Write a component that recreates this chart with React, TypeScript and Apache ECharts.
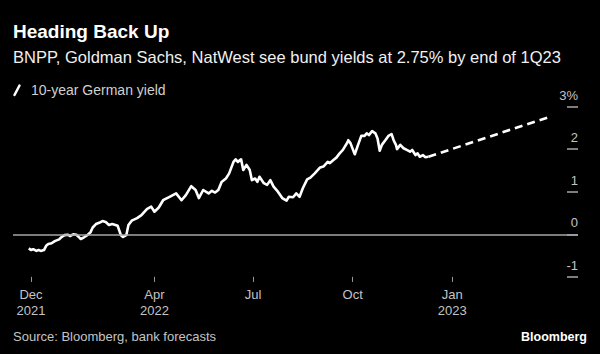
import React, { useEffect, useRef } from 'react';
import * as echarts from 'echarts';

// 10-year German yield (%)
const yieldDates = [
  '2021-12-06', '2021-12-08', '2021-12-10', '2021-12-13', '2021-12-15', '2021-12-17', '2021-12-20',
  '2021-12-22', '2021-12-24', '2021-12-27', '2021-12-30', '2022-01-03', '2022-01-05', '2022-01-08',
  '2022-01-11', '2022-01-13', '2022-01-16', '2022-01-19', '2022-01-21', '2022-01-23', '2022-01-26',
  '2022-01-29', '2022-02-01', '2022-02-03', '2022-02-06', '2022-02-09', '2022-02-12', '2022-02-15',
  '2022-02-18', '2022-02-21', '2022-02-24', '2022-02-26', '2022-03-01', '2022-03-03', '2022-03-06',
  '2022-03-08', '2022-03-11', '2022-03-16', '2022-03-20', '2022-03-25', '2022-03-29', '2022-04-01',
  '2022-04-05', '2022-04-09', '2022-04-15', '2022-04-21', '2022-04-26', '2022-04-30', '2022-05-05',
  '2022-05-09', '2022-05-12', '2022-05-16', '2022-05-21', '2022-05-24', '2022-05-27', '2022-05-30',
  '2022-06-02', '2022-06-06', '2022-06-09', '2022-06-13', '2022-06-15', '2022-06-17', '2022-06-20',
  '2022-06-22', '2022-06-25', '2022-06-28', '2022-06-30', '2022-07-03', '2022-07-05', '2022-07-07',
  '2022-07-11', '2022-07-14', '2022-07-17', '2022-07-20', '2022-07-24', '2022-07-28', '2022-08-01',
  '2022-08-03', '2022-08-07', '2022-08-10', '2022-08-13', '2022-08-16', '2022-08-20', '2022-08-23',
  '2022-08-27', '2022-09-01', '2022-09-04', '2022-09-08', '2022-09-10', '2022-09-13', '2022-09-16',
  '2022-09-19', '2022-09-22', '2022-09-26', '2022-09-27', '2022-09-29', '2022-10-02', '2022-10-03',
  '2022-10-06', '2022-10-09', '2022-10-12', '2022-10-14', '2022-10-16', '2022-10-19', '2022-10-22',
  '2022-10-24', '2022-10-26', '2022-10-28', '2022-10-31', '2022-11-03', '2022-11-06', '2022-11-08',
  '2022-11-10', '2022-11-11', '2022-11-14', '2022-11-17', '2022-11-20', '2022-11-23', '2022-11-25',
  '2022-11-28', '2022-11-30', '2022-12-02', '2022-12-05', '2022-12-07', '2022-12-10',
];
const yieldValues = [
  -0.33, -0.37, -0.35, -0.39, -0.37, -0.39, -0.37,
  -0.27, -0.23, -0.21, -0.16, -0.12, -0.07, -0.02,
  -0.01, -0.04, 0.0, -0.01, -0.06, -0.11, -0.07,
  -0.02, 0.05, 0.16, 0.24, 0.27, 0.31, 0.29,
  0.22, 0.24, 0.22, 0.2, -0.02, -0.06, -0.02,
  0.22, 0.32, 0.38, 0.45, 0.59, 0.65, 0.53,
  0.63, 0.8, 0.88, 0.96, 0.8, 0.92, 1.13,
  1.04, 0.85, 1.04, 0.96, 1.02, 0.98, 1.04,
  1.23, 1.31, 1.43, 1.7, 1.76, 1.7, 1.76,
  1.51, 1.63, 1.51, 1.27, 1.31, 1.23, 1.35,
  1.2, 1.16, 1.27, 1.12, 1.0, 0.85, 0.79,
  0.88, 0.87, 0.96, 0.88, 1.08, 1.29, 1.33,
  1.43, 1.57, 1.59, 1.7, 1.67, 1.74, 1.8,
  1.9, 1.98, 2.15, 2.21, 2.14, 1.94, 1.88,
  2.1, 2.31, 2.31, 2.37, 2.33, 2.42, 2.37,
  2.25, 1.96, 2.1, 2.2, 2.31, 2.35, 2.2,
  2.1, 2.0, 2.1, 2.02, 1.98, 1.94, 1.98,
  1.86, 1.9, 1.82, 1.86, 1.81, 1.82,
];

// Bank forecast: 2.75% by end of 1Q23
const forecastDates = ['2022-12-10', '2023-03-31'];
const forecastValues = [1.82, 2.75];

const xTickDates = ['2021-12-08', '2022-04-01', '2022-07-01', '2022-10-01', '2023-01-01'];
const xTickLabels = ['Dec\n2021', 'Apr\n2022', 'Jul', 'Oct', 'Jan\n2023'];
const yTickValues = [-1, 0, 1, 2, 3];
const yTickLabels = ['-1', '0', '1', '2', '3%'];

const FONT = '"Liberation Sans", Arial, sans-serif';
const ts = (d: string) => new Date(d + 'T00:00:00Z').getTime();

export default function App() {
  const ref = useRef<HTMLDivElement>(null);

  useEffect(() => {
    document.body.style.margin = '0';
    document.body.style.background = '#000';
    if (!ref.current) return;
    const chart = echarts.init(ref.current, undefined, { renderer: 'svg' });

    const xTickTs = xTickDates.map(ts);
    const solid = yieldDates.map((d, i) => [ts(d), yieldValues[i]]);
    const dashed = forecastDates.map((d, i) => [ts(d), forecastValues[i]]);

    chart.setOption({
      animation: false,
      backgroundColor: '#000',
      grid: {
        left: 13,
        right: 22,
        top: 106.5,
        bottom: 77.1,
        containLabel: false,
        outerBoundsMode: 'none',
      },
      xAxis: {
        type: 'value',
        min: ts('2021-11-21') + 0.4 * 86400000,
        max: ts('2023-04-27') + 0.1 * 86400000,
        axisLine: { show: false, onZero: false },
        splitLine: { show: false },
        axisTick: {
          show: true,
          customValues: xTickTs,
          length: 5,
          lineStyle: { color: '#9a9a9a', width: 1 },
        },
        axisLabel: {
          customValues: xTickTs,
          hideOverlap: false,
          formatter: (v: number) => {
            const i = xTickTs.findIndex((t) => Math.abs(t - v) < 1000);
            return i >= 0 ? xTickLabels[i] : '';
          },
          color: '#c4c4c4',
          fontFamily: FONT,
          fontSize: 13,
          lineHeight: 16,
          margin: 10,
        },
      },
      yAxis: {
        type: 'value',
        position: 'right',
        min: -1,
        max: 3,
        interval: 1,
        axisLine: { show: false, onZero: false },
        splitLine: { show: false },
        axisTick: {
          show: true,
          inside: true,
          length: 11,
          lineStyle: { color: '#a8a8a8', width: 1.5 },
        },
        axisLabel: {
          inside: true,
          margin: 0,
          verticalAlign: 'bottom',
          padding: [0, 0, 5, 0],
          color: '#c4c4c4',
          fontFamily: FONT,
          fontSize: 13,
          formatter: (v: number) => {
            const i = yTickValues.indexOf(v);
            return i >= 0 ? yTickLabels[i] : '';
          },
        },
      },
      series: [
        {
          type: 'line',
          data: [],
          z: 1,
          markLine: {
            silent: true,
            symbol: 'none',
            label: { show: false },
            lineStyle: { color: '#a6a6a6', width: 1.5, type: 'solid' },
            data: [{ yAxis: 0 }],
          },
        },
        {
          type: 'line',
          data: solid,
          z: 3,
          showSymbol: false,
          symbol: 'none',
          lineStyle: { color: '#ffffff', width: 2.6, join: 'round' },
        },
        {
          type: 'line',
          data: dashed,
          z: 3,
          showSymbol: false,
          symbol: 'none',
          lineStyle: { color: '#ffffff', width: 2.6, type: [8, 5] },
        },
      ],
      graphic: [
        {
          type: 'text',
          left: 13,
          top: 22,
          style: { text: 'Heading Back Up', fill: '#ffffff', font: `bold 19px ${FONT}` },
        },
        {
          type: 'text',
          left: 13,
          top: 48,
          style: {
            text: 'BNPP, Goldman Sachs, NatWest see bund yields at 2.75% by end of 1Q23',
            fill: '#f0f0f0',
            font: `16.5px ${FONT}`,
          },
        },
        {
          type: 'line',
          shape: { x1: 14.5, y1: 95, x2: 19.5, y2: 85.5 },
          style: { stroke: '#ffffff', lineWidth: 2.5, lineCap: 'round' },
        },
        {
          type: 'text',
          left: 31,
          top: 83,
          style: { text: '10-year German yield', fill: '#d0d0d0', font: `14px ${FONT}` },
        },
        {
          type: 'text',
          left: 13,
          top: 330,
          style: { text: 'Source: Bloomberg, bank forecasts', fill: '#c4c4c4', font: `13px ${FONT}` },
        },
        {
          type: 'text',
          right: 13,
          top: 330,
          style: { text: 'Bloomberg', fill: '#ffffff', font: `bold 12.5px ${FONT}` },
        },
      ],
    });

    return () => chart.dispose();
  }, []);

  return <div ref={ref} style={{ width: 600, height: 354, background: '#000' }} />;
}
